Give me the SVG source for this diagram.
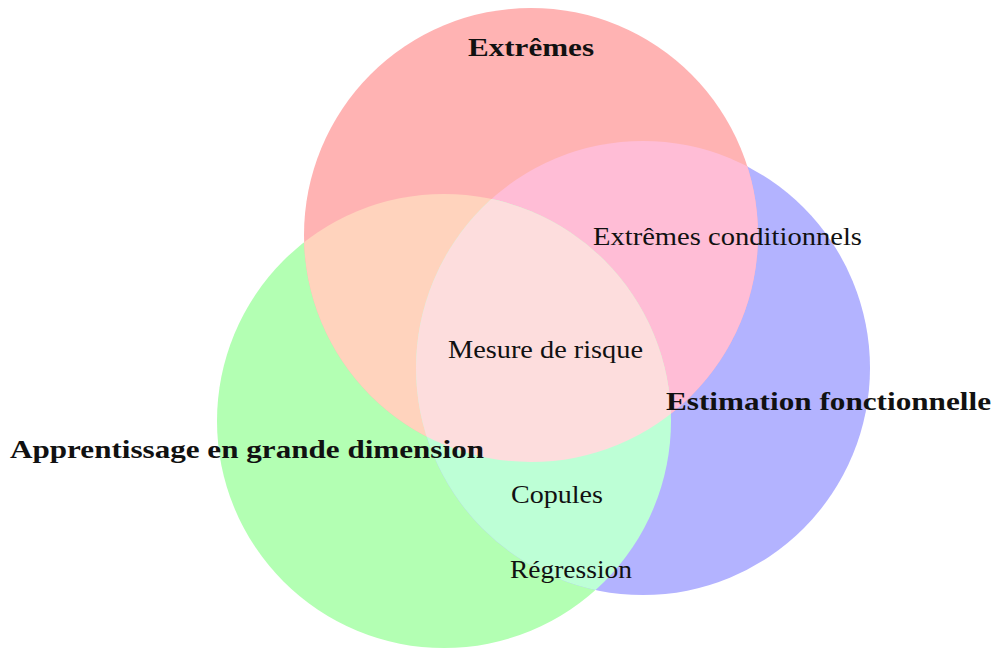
<svg xmlns="http://www.w3.org/2000/svg" width="993" height="649" viewBox="0 0 993 649">
<style>
text{font-family:"Liberation Serif","Times New Roman",serif;font-size:25px;fill:#111;text-anchor:middle}
.b{font-weight:bold}
</style>
<defs>
<clipPath id="cR"><circle cx="531" cy="235" r="227"/></clipPath>
<clipPath id="cB"><circle cx="643" cy="368" r="227"/></clipPath>
<clipPath id="cG"><circle cx="444" cy="421" r="227"/></clipPath>
</defs>
<rect width="993" height="649" fill="#fff"/>
<g id="set-green"><circle cx="444" cy="421" r="227" fill="#B3FFB3"/></g>
<g id="set-blue"><circle cx="643" cy="368" r="227" fill="#B3B3FF"/></g>
<g id="set-red"><circle cx="531" cy="235" r="227" fill="#FFB3B3"/></g>
<g id="overlap-red-blue" clip-path="url(#cR)"><circle cx="643" cy="368" r="227" fill="#FFBDD6"/></g>
<g id="overlap-red-green" clip-path="url(#cR)"><circle cx="444" cy="421" r="227" fill="#FFD3BD"/></g>
<g id="overlap-green-blue" clip-path="url(#cG)"><circle cx="643" cy="368" r="227" fill="#BDFFD6"/></g>
<g id="overlap-all" clip-path="url(#cR)"><g clip-path="url(#cG)"><circle cx="643" cy="368" r="227" fill="#FDDDDD"/></g></g>
<g id="labels">
<text class="b" x="531" y="56" textLength="126" lengthAdjust="spacingAndGlyphs">Extrêmes</text>
<text x="727.5" y="245" textLength="269" lengthAdjust="spacingAndGlyphs">Extrêmes conditionnels</text>
<text x="545.5" y="358" textLength="195" lengthAdjust="spacingAndGlyphs">Mesure de risque</text>
<text class="b" x="828.5" y="410" textLength="325" lengthAdjust="spacingAndGlyphs">Estimation fonctionnelle</text>
<text class="b" x="247" y="458" textLength="474" lengthAdjust="spacingAndGlyphs">Apprentissage en grande dimension</text>
<text x="557" y="503" textLength="92" lengthAdjust="spacingAndGlyphs">Copules</text>
<text x="571" y="578" textLength="122" lengthAdjust="spacingAndGlyphs">Régression</text>
</g>
</svg>
